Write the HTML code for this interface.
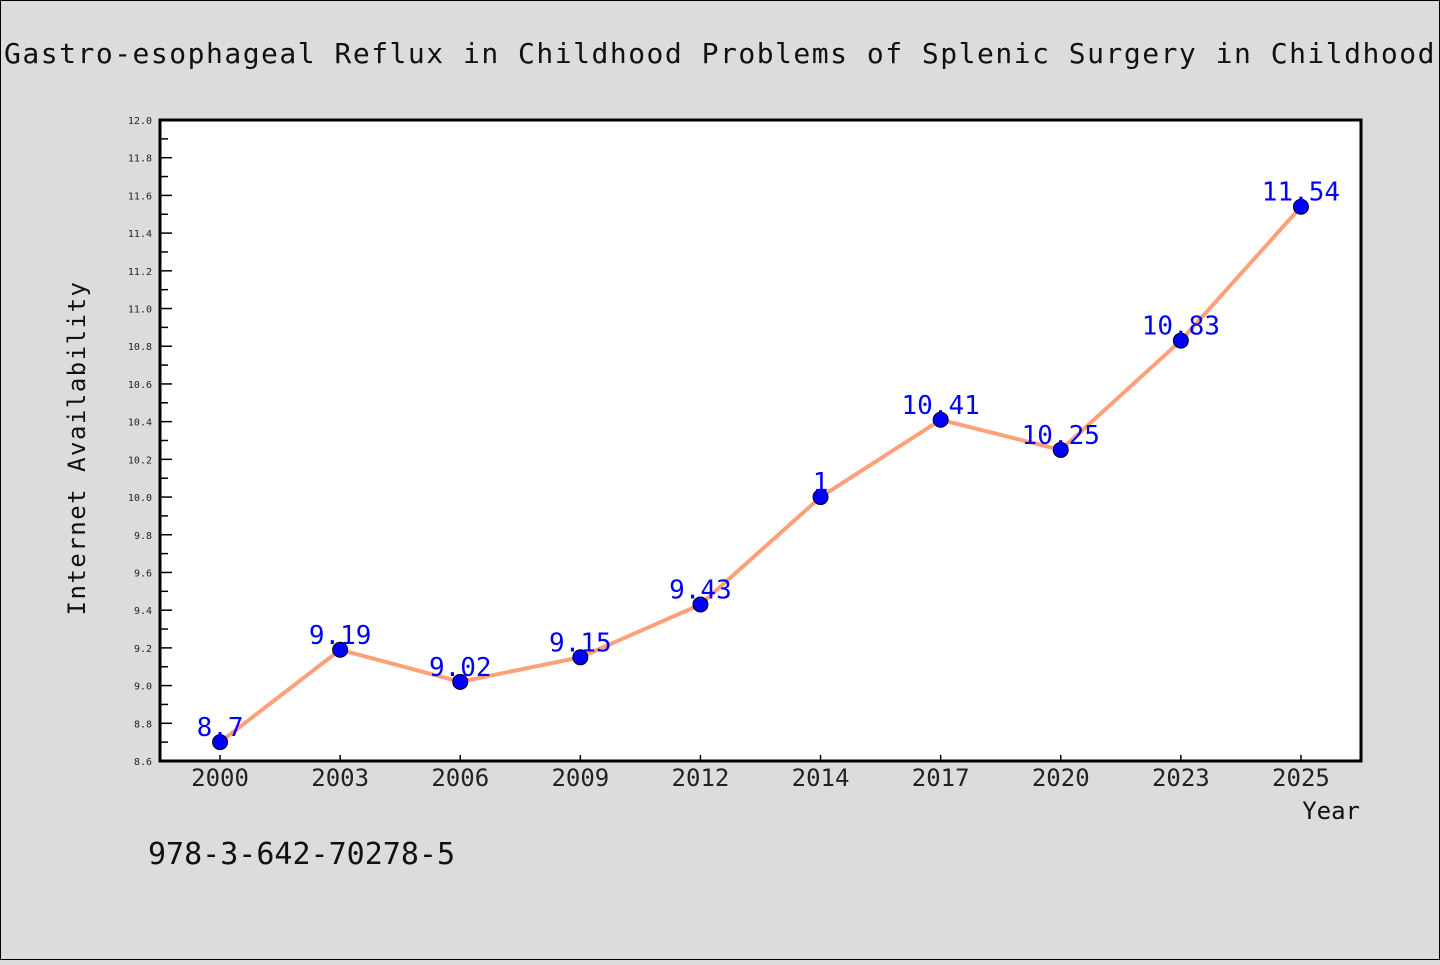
<!DOCTYPE html>
<html><head><meta charset="utf-8"><style>
html,body{margin:0;padding:0;}
body{width:1440px;height:960px;background:#dcdcdc;overflow:hidden;}
svg text{font-family:"WenQuanYi Zen Hei","DejaVu Sans Mono","Liberation Mono",monospace;}
</style></head><body>
<svg id="chart" width="1440" height="960" xmlns="http://www.w3.org/2000/svg">
<rect x="0.5" y="0.5" width="1439" height="959" fill="#dcdcdc" stroke="#000" stroke-width="1"/>
<text x="720" y="63" text-anchor="middle" font-size="28" fill="#111" letter-spacing="1.5">Gastro-esophageal Reflux in Childhood Problems of Splenic Surgery in Childhood</text>
<rect x="160" y="120" width="1201" height="641" fill="#fff"/>
<g id="yaxis"></g>
<g id="xaxis"></g>
<g id="series"></g>
<rect x="160" y="120" width="1201" height="641" fill="none" stroke="#000" stroke-width="3"/>
<text transform="translate(85,448) rotate(-90)" text-anchor="middle" font-size="24" fill="#111" letter-spacing="1.5">Internet Availability</text>
<text x="1360" y="819" text-anchor="end" font-size="24" fill="#111">Year</text>
<text x="148" y="864" font-size="30" fill="#111">978-3-642-70278-5</text>
</svg>
<script>
const categories = ["2000","2003","2006","2009","2012","2014","2017","2020","2023","2025"];
const values = [8.7,9.19,9.02,9.15,9.43,10.0,10.41,10.25,10.83,11.54];
const valueLabels = ["8.7","9.19","9.02","9.15","9.43","1","10.41","10.25","10.83","11.54"];
const yMin = 8.6, yMax = 12.0;
const yTickLabels = ["8.6","8.8","9.0","9.2","9.4","9.6","9.8","10.0","10.2","10.4","10.6","10.8","11.0","11.2","11.4","11.6","11.8","12.0"];

const NS="http://www.w3.org/2000/svg";
const L=160,R=1361,T=120,B=761;
const step=(R-L)/categories.length;
function xs(i){return L+step*(i+0.5);}
function ys(v){return B-(v-yMin)/(yMax-yMin)*(B-T);}
function mk(tag,attrs,parent){const e=document.createElementNS(NS,tag);for(const k in attrs)e.setAttribute(k,attrs[k]);parent.appendChild(e);return e;}
const yg=document.getElementById('yaxis'),xg=document.getElementById('xaxis'),sg=document.getElementById('series');
yTickLabels.forEach((lab,i)=>{
  const v=parseFloat(lab),y=ys(v);
  const t=mk('line',{x1:L,x2:L+12,y1:y,y2:y,stroke:'#000','stroke-width':1.5},yg);
  
  
  const tx=mk('text',{x:152,y:y+4,'text-anchor':'end','font-size':10,fill:'#222'},yg);
  tx.textContent=lab;
  
  
  if(i<yTickLabels.length-1){
    const ym=ys(v+0.1);
    const m=mk('line',{x1:L,x2:L+8,y1:ym,y2:ym,stroke:'#000','stroke-width':1.5},yg);
    
    
  }
});
categories.forEach((c,i)=>{
  const x=xs(i);
  const t=mk('line',{x1:x,x2:x,y1:B,y2:B-6,stroke:'#000','stroke-width':1.5},xg);
  
  
  const tx=mk('text',{x:x,y:B+25,'text-anchor':'middle','font-size':24,fill:'#222'},xg);
  tx.textContent=c;
  
  
});
const pts=values.map((v,i)=>xs(i)+','+ys(v)).join(' ');
const pl=mk('polyline',{points:pts,fill:'none',stroke:'#ffa07a','stroke-width':4,'stroke-linejoin':'round'},sg);


values.forEach((v,i)=>{
  const c=mk('circle',{cx:xs(i),cy:ys(v),r:7.5,fill:'#0000ff',stroke:'#000','stroke-width':1},sg);
  
  
  const t=mk('text',{x:xs(i),y:ys(v)-6,'text-anchor':'middle','font-size':26,fill:'#0000ff'},sg);
  t.textContent=valueLabels[i];
  
  
});
</script>
</body></html>
